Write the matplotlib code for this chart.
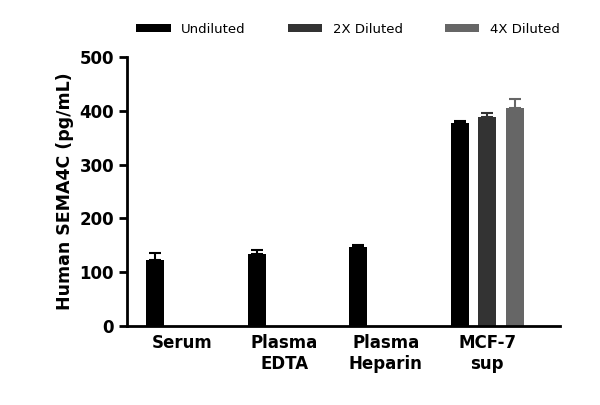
import matplotlib
matplotlib.use("Agg")
import matplotlib.pyplot as plt
import numpy as np

categories = ["Serum\n", "Plasma\nEDTA", "Plasma\nHeparin", "MCF-7\nsup"]
series = ["Undiluted", "2X Diluted", "4X Diluted"]
values = [[122, 133, 147, 378], [0, 0, 0, 389], [0, 0, 0, 405]]
errors = [[13, 9, 4, 3], [0, 0, 0, 7], [0, 0, 0, 17]]
colors = ["#000000", "#333333", "#666666"]

fig = plt.figure(figsize=(6, 4.05), dpi=100)
ax = fig.add_axes([0.212, 0.195, 0.722, 0.664])
x = np.arange(len(categories))
offs = [-0.27, 0, 0.27]
for s in range(3):
    v = np.array(values[s]); e = np.array(errors[s])
    m = v > 0
    ax.bar(x[m] + offs[s], v[m], width=0.18, color=colors[s], label=series[s])
    ax.errorbar(x[m] + offs[s], v[m], yerr=[np.zeros(m.sum()), e[m]], fmt="none",
                ecolor=colors[s], elinewidth=1.5, capsize=4, capthick=1.5)
ax.set_xlim(-0.545, 3.72)
ax.set_ylim(0, 500)
ax.set_yticks([0, 100, 200, 300, 400, 500])
ax.set_xticks(x)
ax.set_xticklabels(["Serum", "Plasma\nEDTA", "Plasma\nHeparin", "MCF-7\nsup"], fontsize=12, fontweight="bold", va="top")
for lab in ax.get_yticklabels():
    lab.set_fontsize(12); lab.set_fontweight("bold")
ax.set_ylabel("Human SEMA4C (pg/mL)", fontsize=12.5, fontweight="bold")
for sp in ["top", "right"]:
    ax.spines[sp].set_visible(False)
for sp in ["left", "bottom"]:
    ax.spines[sp].set_linewidth(2)
ax.tick_params(axis="both", width=2, length=6)
ax.tick_params(axis="x", length=0, pad=6)
ax.legend(loc="lower center", bbox_to_anchor=(0.51, 1.035), ncol=3, frameon=False,
          fontsize=9.5, handlelength=2.6, handleheight=0.6, columnspacing=3.2)
fig.savefig("out.png", dpi=100)
